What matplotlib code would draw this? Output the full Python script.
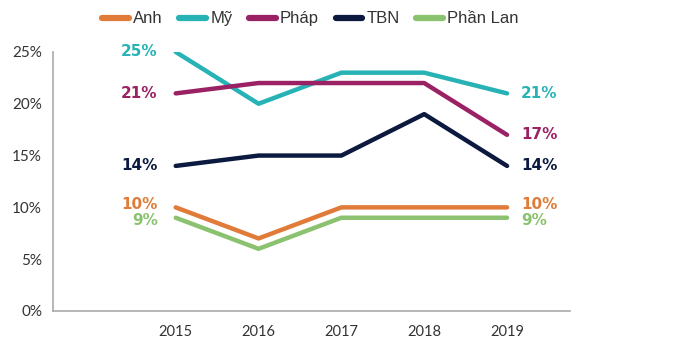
import matplotlib
matplotlib.use("Agg")
import matplotlib.pyplot as plt

years = ["2015", "2016", "2017", "2018", "2019"]
series_names = ["Anh", "Mỹ", "Pháp", "TBN", "Phần Lan"]
anh = [10, 7, 10, 10, 10]
my = [25, 20, 23, 23, 21]
phap = [21, 22, 22, 22, 17]
tbn = [14, 15, 15, 19, 14]
phan_lan = [9, 6, 9, 9, 9]
yticks = [0, 5, 10, 15, 20, 25]

colors = ["#E07B3A", "#27B3B5", "#9A2163", "#0C1A3F", "#8BC26F"]
values = [anh, my, phap, tbn, phan_lan]
label_dy = [2, 0, 0, 0, -2]

plt.rcParams['font.family'] = ['Lato', 'DejaVu Sans']

fig = plt.figure(figsize=(6.81, 3.51), dpi=100)
ax = fig.add_axes([0.078, 0.114, 0.759, 0.738])
x = list(range(len(years)))
handles = []
for name, vals, c, dy in zip(series_names, values, colors, label_dy):
    h, = ax.plot(x, vals, color=c, lw=3.2, solid_capstyle='round', solid_joinstyle='round', label=name)
    handles.append(h)
    ax.annotate(f"{vals[0]}%", (x[0], vals[0]), xytext=(-13, dy), textcoords='offset points',
                ha='right', va='center', color=c, fontsize=11, fontweight='bold', family='DejaVu Sans')
    ax.annotate(f"{vals[-1]}%", (x[-1], vals[-1]), xytext=(10, dy), textcoords='offset points',
                ha='left', va='center', color=c, fontsize=11, fontweight='bold', family='DejaVu Sans')

ax.set_xlim(-1.48, 4.76)
ax.set_ylim(0, 25)
ax.set_xticks(x)
ax.set_xticklabels(years, fontsize=10.5, color="#333333")
ax.set_yticks(yticks)
ax.set_yticklabels([f"{v}%" for v in yticks], fontsize=11, color="#333333")
ax.tick_params(length=0, pad=8)
ax.tick_params(axis='x', pad=10)
for s in ['top', 'right']:
    ax.spines[s].set_visible(False)
for s in ['left', 'bottom']:
    ax.spines[s].set_color("#AAAAAA")
    ax.spines[s].set_linewidth(1.2)

leg = fig.legend(handles=handles, loc='upper left', bbox_to_anchor=(0.128, 1.01), ncol=5,
                 frameon=False, prop={'family': 'Liberation Sans', 'size': 12}, handlelength=1.6,
                 handletextpad=0.25, columnspacing=1.0, labelcolor="#333333")
for lh in leg.get_lines():
    lh.set_linewidth(4.5)
    lh.set_solid_capstyle('round')

fig.savefig("out.png", dpi=100, facecolor='white')
